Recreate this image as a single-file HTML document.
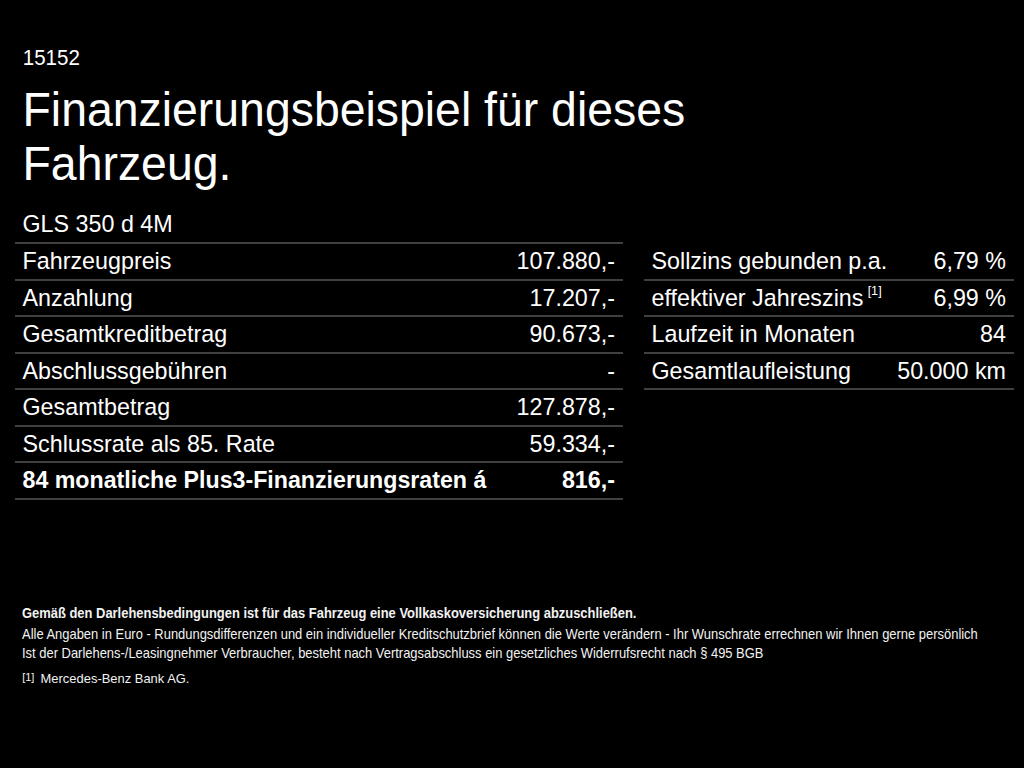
<!DOCTYPE html>
<html><head><meta charset="utf-8">
<style>
html,body{margin:0;padding:0;background:#000;}
body{width:1024px;height:768px;overflow:hidden;position:relative;font-family:"Liberation Sans",sans-serif;color:#fff;}
.a{position:absolute;white-space:nowrap;line-height:1;}
.ln{position:absolute;height:2px;background:#404040;}
.t{font-size:23.3px;transform-origin:0 19.73px;transform:scaleY(1.01);}
.r{text-align:right;}
.h{left:22.5px;font-size:46.4px;line-height:54px;transform-origin:0 43px;transform:scaleY(1.055);}
.b{font-weight:bold;}
.f{font-size:12.95px;color:#f2f2f2;transform-origin:0 10.96px;transform:scaleY(1.08);}
sup{font-size:60%;vertical-align:0;position:relative;top:-0.75em;}
</style></head><body>
<div class="a" id="num" style="left:22.8px;top:48.4px;font-size:20.5px;transform-origin:0 17.4px;transform:scaleY(1.07);">15152</div>
<div class="a h" style="top:82.8px;">Finanzierungsbeispiel für dieses</div>
<div class="a h" style="top:136.6px;">Fahrzeug.</div>

<div class="a t" id="gls" style="left:22.5px;top:213.2px;">GLS 350 d 4M</div>

<div class="ln" style="left:15px;width:608px;top:242px;"></div>
<div class="ln" style="left:15px;width:608px;top:279px;"></div>
<div class="ln" style="left:15px;width:608px;top:315px;"></div>
<div class="ln" style="left:15px;width:608px;top:352px;"></div>
<div class="ln" style="left:15px;width:608px;top:388px;"></div>
<div class="ln" style="left:15px;width:608px;top:425px;"></div>
<div class="ln" style="left:15px;width:608px;top:461px;"></div>
<div class="ln" style="left:15px;width:608px;top:498px;"></div>

<div class="ln" style="left:644px;width:370px;top:279px;"></div>
<div class="ln" style="left:644px;width:370px;top:315px;"></div>
<div class="ln" style="left:644px;width:370px;top:352px;"></div>
<div class="ln" style="left:644px;width:370px;top:388px;"></div>

<div class="a t" style="left:22.5px;top:250px;">Fahrzeugpreis</div>
<div class="a t r" style="right:409px;top:250px;">107.880,-</div>
<div class="a t" style="left:22.5px;top:287px;">Anzahlung</div>
<div class="a t r" style="right:409px;top:287px;">17.207,-</div>
<div class="a t" style="left:22.5px;top:323px;">Gesamtkreditbetrag</div>
<div class="a t r" style="right:409px;top:323px;">90.673,-</div>
<div class="a t" style="left:22.5px;top:360px;">Abschlussgebühren</div>
<div class="a t r" style="right:409px;top:360px;">-</div>
<div class="a t" style="left:22.5px;top:396px;">Gesamtbetrag</div>
<div class="a t r" style="right:409px;top:396px;">127.878,-</div>
<div class="a t" style="left:22.5px;top:433px;">Schlussrate als 85. Rate</div>
<div class="a t r" style="right:409px;top:433px;">59.334,-</div>
<div class="a t b" style="left:22.5px;top:469px;font-size:23.2px;">84 monatliche Plus3-Finanzierungsraten á</div>
<div class="a t b r" style="right:409px;top:469px;">816,-</div>

<div class="a t" style="left:651.5px;top:250px;">Sollzins gebunden p.a.</div>
<div class="a t r" style="right:18px;top:250px;">6,79 %</div>
<div class="a t" style="left:651.5px;top:287px;">effektiver Jahreszins<span style="display:inline-block;font-size:12.6px;margin-left:4.2px;position:relative;top:-11.5px;">[1]</span></div>
<div class="a t r" style="right:18px;top:287px;">6,99 %</div>
<div class="a t" style="left:651.5px;top:323px;">Laufzeit in Monaten</div>
<div class="a t r" style="right:18px;top:323px;">84</div>
<div class="a t" style="left:651.5px;top:360px;">Gesamtlaufleistung</div>
<div class="a t r" style="right:18px;top:360px;">50.000 km</div>

<div class="a f b" style="left:22px;top:608.1px;">Gemäß den Darlehensbedingungen ist für das Fahrzeug eine Vollkaskoversicherung abzuschließen.</div>
<div class="a f" style="left:22px;top:629px;">Alle Angaben in Euro - Rundungsdifferenzen und ein individueller Kreditschutzbrief können die Werte verändern - Ihr Wunschrate errechnen wir Ihnen gerne persönlich</div>
<div class="a f" style="left:22px;top:647.6px;">Ist der Darlehens-/Leasingnehmer Verbraucher, besteht nach Vertragsabschluss ein gesetzliches Widerrufsrecht nach § 495 BGB</div>
<div class="a f" style="left:22.2px;top:671.5px;font-size:11px;transform:none;">[1]</div><div class="a f" style="left:40.6px;top:673px;transform:scaleY(1.03);">Mercedes-Benz Bank AG.</div>
</body></html>
